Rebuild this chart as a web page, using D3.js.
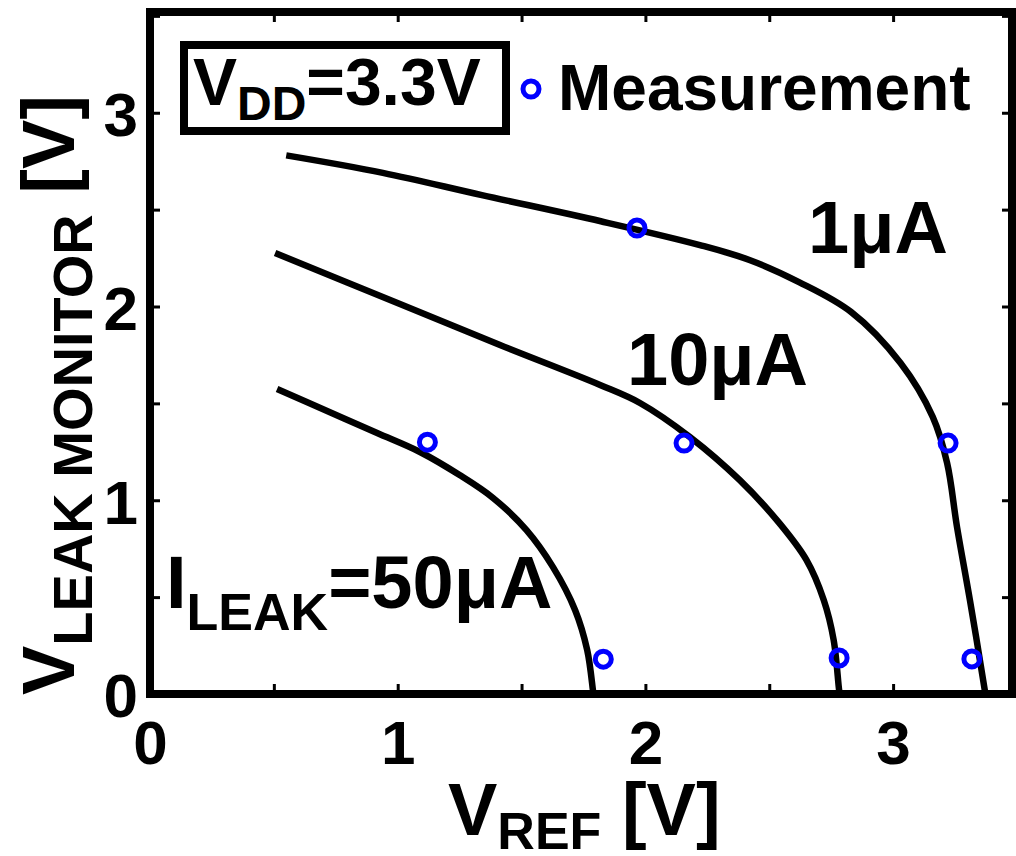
<!DOCTYPE html>
<html>
<head>
<meta charset="utf-8">
<script src="https://cdn.jsdelivr.net/npm/d3@7"></script>
<style>
  body { margin: 0; background: #fff; }
  text { font-family: "Liberation Sans", Arial, sans-serif; font-weight: bold; fill: #000; }
</style>
</head>
<body>
<script>
// simulated curves, one per leak current: [V_REF, V_LEAK_MONITOR]
const curve1uA = [[0.55, 2.78], [0.94, 2.69], [1.34, 2.575], [1.82, 2.44], [2.22, 2.317], [2.42, 2.24],
  [2.62, 2.126], [2.83, 1.972], [3.03, 1.708], [3.16, 1.43], [3.218, 1.192], [3.258, 0.862],
  [3.31, 0.485], [3.37, 0.021], [3.372, 0]];
const curve10uA = [[0.505, 2.276], [1.009, 2.013], [1.413, 1.801], [1.817, 1.595], [1.978, 1.502],
  [2.18, 1.326], [2.38, 1.105], [2.54, 0.883], [2.65, 0.692], [2.72, 0.485], [2.76, 0.279],
  [2.782, 0.021], [2.785, 0]];
const curve50uA = [[0.513, 1.574], [0.715, 1.461], [0.917, 1.347], [1.09, 1.249], [1.25, 1.13],
  [1.385, 1.012], [1.52, 0.846], [1.627, 0.655], [1.716, 0.434], [1.765, 0.227], [1.788, 0.021], [1.79, 0]];

// measured points
const measured = [[1.966, 2.405], [3.222, 1.295], [3.318, 0.181],
  [2.156, 1.295], [2.782, 0.186],
  [1.12, 1.30], [1.83, 0.18]];

const xTicks = [0, 0.5, 1, 1.5, 2, 2.5, 3];
const yTicks = [0, 0.5, 1, 1.5, 2, 2.5, 3, 3.5];

const width = 1016, height = 856;

const svg = d3.select('body').append('svg')
  .attr('width', width)
  .attr('height', height);

// plot frame edges in pixels
const plotLeft = 150, plotRight = 1012, plotTop = 12, plotBottom = 694;

const x = d3.scaleLinear().domain([0, 3.48]).range([plotLeft, plotRight]);
const y = d3.scaleLinear().domain([0, 3.52]).range([plotBottom, plotTop]);

const intFmt = d => Number.isInteger(d) ? d : '';

// axes with inward ticks on all four sides
const gx = svg.append('g')
  .attr('transform', `translate(0,${plotBottom})`)
  .call(d3.axisBottom(x).tickValues(xTicks).tickFormat(intFmt).tickSizeInner(-10).tickSizeOuter(0).tickPadding(26));
gx.selectAll('text').style('font-size', '62px');

const gxt = svg.append('g')
  .attr('transform', `translate(0,${plotTop})`)
  .call(d3.axisTop(x).tickValues(xTicks).tickFormat('').tickSizeInner(-10).tickSizeOuter(0));

const gy = svg.append('g')
  .attr('transform', `translate(${plotLeft},0)`)
  .call(d3.axisLeft(y).tickValues(yTicks).tickFormat(intFmt).tickSizeInner(-10).tickSizeOuter(0).tickPadding(12));
gy.selectAll('text').style('font-size', '62px').attr('dy', '0.37em');

const gyr = svg.append('g')
  .attr('transform', `translate(${plotRight},0)`)
  .call(d3.axisRight(y).tickValues(yTicks).tickFormat('').tickSizeInner(-10).tickSizeOuter(0));

[gx, gxt, gy, gyr].forEach(g => {
  g.select('.domain').remove();
  g.selectAll('.tick line').attr('stroke', '#000').attr('stroke-width', 3);
});

// frame
svg.append('rect')
  .attr('x', plotLeft).attr('y', plotTop)
  .attr('width', plotRight - plotLeft).attr('height', plotBottom - plotTop)
  .attr('fill', 'none').attr('stroke', '#000').attr('stroke-width', 8);

// curves
const line = d3.line()
  .x(d => x(d[0]))
  .y(d => y(d[1]))
  .curve(d3.curveCatmullRom.alpha(0.5));

svg.selectAll('path.curve')
  .data([curve1uA, curve10uA, curve50uA])
  .enter()
  .append('path')
  .attr('class', 'curve')
  .attr('d', line)
  .attr('fill', 'none')
  .attr('stroke', '#000')
  .attr('stroke-width', 6.5);

// measurement circles
svg.selectAll('circle.meas')
  .data(measured)
  .enter()
  .append('circle')
  .attr('class', 'meas')
  .attr('cx', d => x(d[0]))
  .attr('cy', d => y(d[1]))
  .attr('r', 8)
  .attr('fill', 'none')
  .attr('stroke', '#0000ff')
  .attr('stroke-width', 5);

// curve labels
svg.append('text').attr('x', 808).attr('y', 253).style('font-size', '74px').text('1μA');
svg.append('text').attr('x', 627).attr('y', 385).style('font-size', '74px').text('10μA');

const leak = svg.append('text').attr('x', 166).attr('y', 608).style('font-size', '74px');
leak.append('tspan').text('I');
leak.append('tspan').attr('dy', 22).style('font-size', '52px').text('LEAK');
leak.append('tspan').attr('dy', -22).text('=50μA');

// VDD box
svg.append('rect')
  .attr('x', 184).attr('y', 45).attr('width', 322).attr('height', 86)
  .attr('fill', 'none').attr('stroke', '#000').attr('stroke-width', 8);
const vdd = svg.append('text').attr('x', 193).attr('y', 105).style('font-size', '66px');
vdd.append('tspan').text('V');
vdd.append('tspan').attr('dy', 15).style('font-size', '48px').text('DD');
vdd.append('tspan').attr('dy', -15).text('=3.3V');

// measurement legend
svg.append('circle')
  .attr('cx', 531).attr('cy', 89).attr('r', 8)
  .attr('fill', 'none').attr('stroke', '#0000ff').attr('stroke-width', 5);
svg.append('text').attr('x', 558).attr('y', 110).style('font-size', '64px').text('Measurement');

// x axis title
const xt = svg.append('text').attr('x', 448).attr('y', 835).style('font-size', '74px');
xt.append('tspan').text('V');
xt.append('tspan').attr('dy', 14).style('font-size', '52px').text('REF');
xt.append('tspan').attr('dy', -14).text(' [V]');

// y axis title
const yt = svg.append('text')
  .attr('transform', 'translate(74,395) rotate(-90)')
  .attr('text-anchor', 'middle')
  .style('font-size', '74px');
yt.append('tspan').text('V');
yt.append('tspan').attr('dy', 18).style('font-size', '56px').text('LEAK MONITOR');
yt.append('tspan').attr('dy', -18).text(' [V]');
</script>
</body>
</html>
